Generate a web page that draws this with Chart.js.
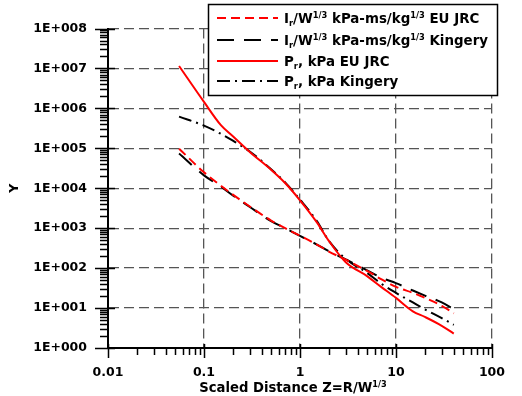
<!DOCTYPE html>
<html>
<head>
<meta charset="utf-8">
<script src="https://cdn.jsdelivr.net/npm/chart.js@4"></script>
<style>
  html, body { margin: 0; padding: 0; background: #fff; }
</style>
</head>
<body>
<canvas id="chart_" width="522" height="396"></canvas>
<script>
// scaled distance Z (x) and the four curves
const zValues    = [0.055, 0.1, 0.15, 0.2, 0.3, 0.5, 0.7, 1, 1.5, 2, 3, 5, 7, 10, 15, 20, 30, 40];
const irJrc      = [9.8e4, 2.5e4, 1.15e4, 6.9e3, 3.5e3, 1.55e3, 1.0e3, 650, 390, 260, 163, 85, 53, 34, 24, 18, 11.4, 7.4];
const irKingery  = [7.4e4, 2.1e4, 1.1e4, 6.6e3, 3.4e3, 1.5e3, 1.0e3, 640, 390, 265, 165, 88, 58, 42, 27.5, 20.5, 13.8, 9.3];
const prJrc      = [1.15e7, 1.45e6, 3.8e5, 2.0e5, 8.1e4, 2.9e4, 1.35e4, 5.0e3, 1.4e3, 480, 140, 63, 34, 18, 8.3, 6.0, 3.6, 2.3];
const prKingery  = [6.2e5, 3.7e5, 2.3e5, 1.55e5, 8.3e4, 3.0e4, 1.4e4, 5.2e3, 1.5e3, 480, 170, 76, 41, 24, 13.8, 9.3, 5.6, 3.8];

const seriesNames = [
  'I_r/W^1/3 kPa-ms/kg^1/3 EU JRC',
  'I_r/W^1/3 kPa-ms/kg^1/3 Kingery',
  'P_r, kPa EU JRC',
  'P_r, kPa Kingery'
];
const xTicks = [0.01, 0.1, 1, 10, 100];
const yTicks = [1, 10, 100, 1e3, 1e4, 1e5, 1e6, 1e7, 1e8];
const xTitle = 'Scaled Distance Z=R/W^1/3';
const yTitle = 'Y';

const FONT = '"DejaVu Sans", sans-serif';

// split "I_r/W^1/3" into normal / sub / sup runs
function parseRich(s) {
  const parts = [];
  let buf = '';
  for (let i = 0; i < s.length; i++) {
    const c = s[i];
    if (c === '_' || c === '^') {
      if (buf) parts.push({ t: buf, k: 0 });
      buf = '';
      let j = i + 1, run = '';
      if (c === '_') { run = s[j]; j++; }
      else { while (j < s.length && s[j] !== ' ') { run += s[j]; j++; } }
      parts.push({ t: run, k: c === '_' ? -1 : 1 });
      i = j - 1;
    } else buf += c;
  }
  if (buf) parts.push({ t: buf, k: 0 });
  return parts;
}

function richWidth(ctx, s, size) {
  let w = 0;
  parseRich(s).forEach(p => {
    ctx.font = 'bold ' + (p.k ? size * 0.62 : size) + 'px ' + FONT;
    w += ctx.measureText(p.t).width;
  });
  return w;
}

function drawRich(ctx, s, x, y, size) {
  ctx.textBaseline = 'alphabetic';
  ctx.textAlign = 'left';
  parseRich(s).forEach(p => {
    const fs = p.k ? size * 0.62 : size;
    ctx.font = 'bold ' + fs + 'px ' + FONT;
    const dy = p.k === 1 ? -size * 0.4 : (p.k === -1 ? size * 0.2 : 0);
    ctx.fillText(p.t, x, y + dy);
    x += ctx.measureText(p.t).width;
  });
}

const styles = [
  { color: 'red', dash: [9, 5] },
  { color: '#000', dash: [17, 10] },
  { color: 'red', dash: [] },
  { color: '#000', dash: [13, 5, 2, 5] }
];

function makeData(arr) {
  return zValues.map((z, i) => ({ x: z, y: arr[i] }));
}

// minor / major tick marks and the legend box, x title with superscript
const extras = {
  id: 'extras',
  afterDraw(chart) {
    const { ctx, scales: { x, y }, chartArea: a } = chart;
    ctx.save();
    ctx.strokeStyle = '#000';
    ctx.lineWidth = 1.5;
    ctx.beginPath();
    xTicks.forEach((d, idx) => {
      const px = Math.round(x.getPixelForValue(d)) + 0.5;
      ctx.moveTo(px, a.bottom - 4);
      ctx.lineTo(px, a.bottom + 10);
      if (idx < xTicks.length - 1) {
        for (let m = 2; m < 10; m++) {
          const mx = Math.round(x.getPixelForValue(d * m)) + 0.5;
          ctx.moveTo(mx, a.bottom);
          ctx.lineTo(mx, a.bottom + 7);
        }
      }
    });
    yTicks.forEach((d, idx) => {
      const py = Math.round(y.getPixelForValue(d)) + 0.5;
      ctx.moveTo(a.left - 13, py);
      ctx.lineTo(a.left + 7, py);
      if (idx < yTicks.length - 1) {
        for (let m = 2; m < 10; m++) {
          const my = Math.round(y.getPixelForValue(d * m)) + 0.5;
          ctx.moveTo(a.left - 8, my);
          ctx.lineTo(a.left, my);
        }
      }
    });
    ctx.stroke();

    // x axis title
    ctx.fillStyle = '#000';
    const tw = richWidth(ctx, xTitle, 13.2);
    drawRich(ctx, xTitle, (a.left + a.right) / 2 - 7 - tw / 2, 392, 13.2);

    // legend
    const box = { l: 208.5, t: 4.5, r: 497.5, b: 95.5 };
    ctx.fillStyle = '#fff';
    ctx.fillRect(box.l, box.t, box.r - box.l, box.b - box.t);
    ctx.lineWidth = 1.5;
    ctx.setLineDash([]);
    ctx.strokeRect(box.l, box.t, box.r - box.l, box.b - box.t);
    const rows = [18, 40, 61, 81];
    seriesNames.forEach((name, i) => {
      ctx.strokeStyle = styles[i].color;
      ctx.lineWidth = 2;
      ctx.setLineDash(styles[i].dash);
      ctx.beginPath();
      ctx.moveTo(217, rows[i]);
      ctx.lineTo(278, rows[i]);
      ctx.stroke();
      ctx.setLineDash([]);
      ctx.fillStyle = '#000';
      drawRich(ctx, name, 284, rows[i] + 5, 13.4);
    });
    ctx.restore();
  }
};

const datasets = [irJrc, irKingery, prJrc, prKingery].map((arr, i) => ({
  label: seriesNames[i],
  data: makeData(arr),
  borderColor: styles[i].color,
  borderDash: styles[i].dash,
  borderWidth: 2,
  pointRadius: 0,
  fill: false,
  cubicInterpolationMode: 'monotone',
  order: styles[i].color === 'red' ? 0 : 1
}));

const tickFont = { family: FONT, size: 12.5, weight: 'bold' };

new Chart(document.getElementById('chart_'), {
  type: 'line',
  data: { datasets },
  options: {
    responsive: false,
    animation: false,
    devicePixelRatio: 1,
    layout: { padding: { top: 22, right: 20, left: 0, bottom: 0 } },
    plugins: { legend: { display: false }, tooltip: { enabled: false } },
    scales: {
      x: {
        type: 'logarithmic',
        min: 0.01,
        max: 100,
        afterBuildTicks: s => { s.ticks = xTicks.map(v => ({ value: v })); },
        afterFit: s => { s.height = 48; },
        grid: { color: '#555', lineWidth: 1.3, drawTicks: false },
        border: { display: true, color: '#000', width: 2, dash: [10, 5] },
        ticks: {
          autoSkip: false, maxRotation: 0, color: '#000', font: tickFont, padding: 17,
          callback: v => String(v)
        },
        title: { display: false }
      },
      y: {
        type: 'logarithmic',
        min: 1,
        max: 1e8,
        afterBuildTicks: s => { s.ticks = yTicks.map(v => ({ value: v })); },
        afterFit: s => { s.width = 108; },
        grid: { color: '#555', lineWidth: 1.3, drawTicks: false },
        border: { display: true, color: '#000', width: 2, dash: [10, 5] },
        ticks: {
          autoSkip: false, color: '#000', font: tickFont, padding: 21,
          callback: v => '1E+' + String(Math.round(Math.log10(v))).padStart(3, '0')
        },
        title: {
          display: true, text: yTitle, color: '#000',
          font: { family: FONT, size: 12.5, weight: 'bold' },
          padding: { top: 7, bottom: 0 }
        }
      }
    }
  },
  plugins: [extras]
});
</script>
</body>
</html>
